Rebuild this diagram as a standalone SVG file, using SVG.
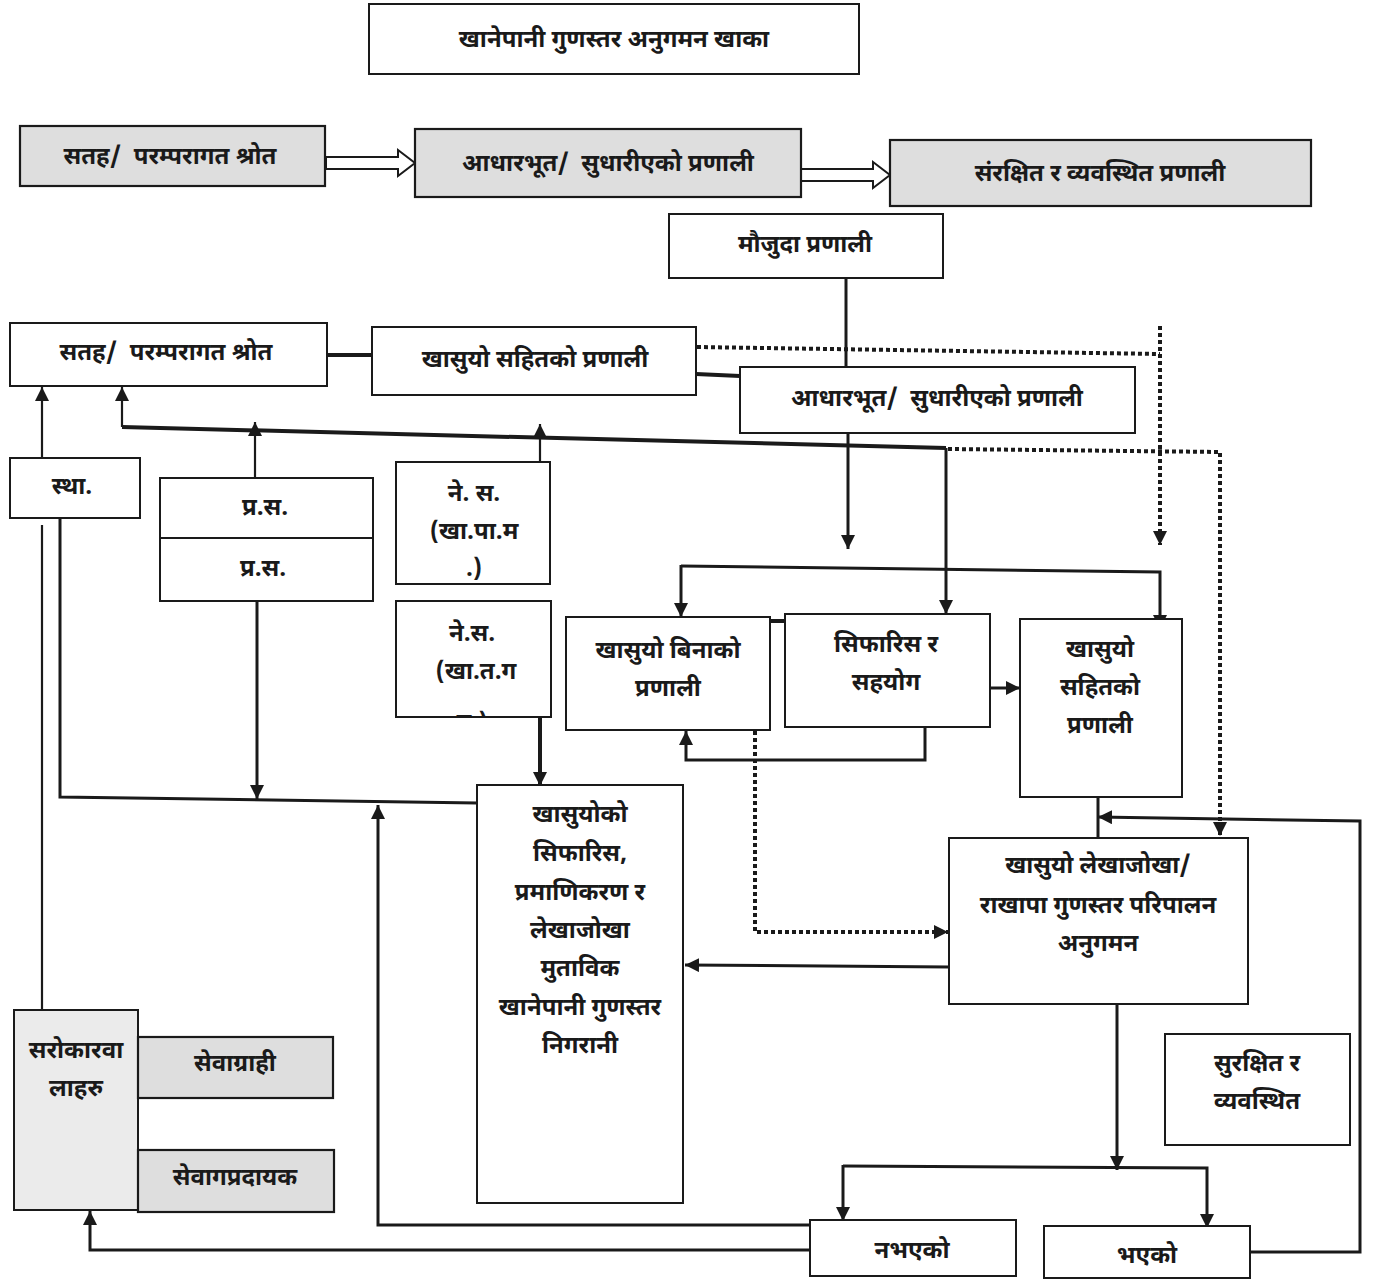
<svg xmlns="http://www.w3.org/2000/svg" width="1373" height="1279" viewBox="0 0 1373 1279">
<style>
  .box { fill: #ffffff; stroke: #1a1a1a; stroke-width: 2; }
  .gray { fill: #dedede; stroke: #1a1a1a; stroke-width: 2.2; }
  .lgray { fill: #ebebeb; stroke: #1a1a1a; stroke-width: 2; }
  text { font-family: "Noto Sans Devanagari", "Lohit Devanagari", "Noto Sans", "DejaVu Sans", sans-serif; font-weight: bold; font-size: 24px; fill: #1a1a1a; text-anchor: middle; white-space: pre; }
  .ln { fill: none; stroke: #1a1a1a; stroke-width: 3; }
  .thin { fill: none; stroke: #1a1a1a; stroke-width: 2.2; }
  .thick { fill: none; stroke: #1a1a1a; stroke-width: 4; }
  .dot { fill: none; stroke: #1a1a1a; stroke-width: 4; stroke-dasharray: 4 3; }
  .hollow { fill: #ffffff; stroke: #1a1a1a; stroke-width: 2; }
</style>
<defs>
  <marker id="ah" viewBox="0 0 10 10" refX="10" refY="5" markerWidth="14" markerHeight="14" markerUnits="userSpaceOnUse" orient="auto">
    <path d="M0,0 L10,5 L0,10 Z" fill="#1a1a1a"/>
  </marker>
  <clipPath id="clipNS2"><rect x="396" y="601" width="155" height="115"/></clipPath>
</defs>
<rect width="1373" height="1279" fill="#ffffff"/>

<g id="connectors">
  <polygon class="hollow" points="326,157 398,157 398,150 415,163 398,176 398,169 326,169"/>
  <polygon class="hollow" points="801,169 873,169 873,162 890,175 873,188 873,181 801,181"/>
  <line class="ln" x1="846" y1="278" x2="846" y2="368"/>
  <line class="thick" x1="327" y1="355" x2="372" y2="355"/>
  <line class="thick" x1="696" y1="374" x2="740" y2="376"/>
  <polyline class="dot" points="697,347 1160,354"/>
  <line class="dot" x1="1160" y1="326" x2="1160" y2="545" marker-end="url(#ah)"/>
  <polyline class="thick" points="122,427 946,448"/>
  <polyline class="dot" points="948,449 1220,452 1220,836" marker-end="url(#ah)"/>
  <line class="thin" x1="122" y1="427" x2="122" y2="387" marker-end="url(#ah)"/>
  <line class="thin" x1="42" y1="458" x2="42" y2="387" marker-end="url(#ah)"/>
  <line class="thin" x1="42" y1="525" x2="42" y2="1010"/>
  <line class="thin" x1="255" y1="478" x2="255" y2="422" marker-end="url(#ah)"/>
  <line class="thin" x1="540" y1="462" x2="540" y2="424" marker-end="url(#ah)"/>
  <line class="ln" x1="848" y1="433" x2="848" y2="549" marker-end="url(#ah)"/>
  <line class="ln" x1="946" y1="448" x2="946" y2="614" marker-end="url(#ah)"/>
  <polyline class="ln" points="681,566 1160,572 1160,629" marker-end="url(#ah)"/>
  <line class="ln" x1="681" y1="565" x2="681" y2="617" marker-end="url(#ah)"/>
  <line class="ln" x1="990" y1="688" x2="1020" y2="688" marker-end="url(#ah)"/>
  <polyline class="ln" points="925,727 925,760 686,760 686,731" marker-end="url(#ah)"/>
  <line class="thick" x1="770" y1="621" x2="785" y2="621"/>
  <polyline class="dot" points="755,731 755,932 948,932" marker-end="url(#ah)"/>
  <polyline class="ln" points="60,518 60,797 477,803"/>
  <line class="ln" x1="257" y1="601" x2="257" y2="799" marker-end="url(#ah)"/>
  <line class="thick" x1="540" y1="717" x2="540" y2="786" marker-end="url(#ah)"/>
  <polyline class="ln" points="810,1225 378,1225 378,805" marker-end="url(#ah)"/>
  <polyline class="ln" points="810,1250 90,1250 90,1211" marker-end="url(#ah)"/>
  <line class="ln" x1="949" y1="967" x2="685" y2="965" marker-end="url(#ah)"/>
  <line class="ln" x1="1098" y1="797" x2="1098" y2="838"/>
  <polyline class="ln" points="1250,1252 1360,1252 1360,821 1098,817" marker-end="url(#ah)"/>
  <line class="ln" x1="1117" y1="1004" x2="1117" y2="1170" marker-end="url(#ah)"/>
  <polyline class="ln" points="843,1166 1207,1168 1207,1228" marker-end="url(#ah)"/>
  <line class="ln" x1="843" y1="1165" x2="843" y2="1221" marker-end="url(#ah)"/>
</g>

<g id="n-title">
  <rect class="box" x="369" y="4" width="490" height="70"/>
  <text x="614" y="47">खानेपानी गुणस्तर अनुगमन खाका</text>
</g>
<g id="n-row2-a">
  <rect class="gray" x="20" y="126" width="305" height="60"/>
  <text x="170" y="164">सतह/  परम्परागत श्रोत</text>
</g>
<g id="n-row2-b">
  <rect class="gray" x="415" y="129" width="386" height="68"/>
  <text x="608" y="171">आधारभूत/  सुधारीएको प्रणाली</text>
</g>
<g id="n-row2-c">
  <rect class="gray" x="890" y="140" width="421" height="66"/>
  <text x="1100" y="181">संरक्षित र व्यवस्थित प्रणाली</text>
</g>
<g id="n-maujuda">
  <rect class="box" x="669" y="214" width="274" height="64"/>
  <text x="805" y="252">मौजुदा प्रणाली</text>
</g>
<g id="n-satah">
  <rect class="box" x="10" y="323" width="317" height="63"/>
  <text x="166" y="360">सतह/  परम्परागत श्रोत</text>
</g>
<g id="n-khasuyo-sahit-1">
  <rect class="box" x="372" y="327" width="324" height="68"/>
  <text x="535" y="367">खासुयो सहितको प्रणाली</text>
</g>
<g id="n-adharbhut">
  <rect class="box" x="740" y="367" width="395" height="66"/>
  <text x="937" y="406">आधारभूत/  सुधारीएको प्रणाली</text>
</g>
<g id="n-stha">
  <rect class="box" x="10" y="458" width="130" height="60"/>
  <text x="72" y="494">स्था.</text>
</g>
<g id="n-pras-1">
  <rect class="box" x="160" y="478" width="213" height="61"/>
  <text x="265" y="515">प्र.स.</text>
</g>
<g id="n-pras-2">
  <rect class="box" x="160" y="538" width="213" height="63"/>
  <text x="263" y="576">प्र.स.</text>
</g>
<g id="n-nesa-1">
  <rect class="box" x="396" y="462" width="154" height="122"/>
  <text x="474" y="501">ने. स.</text>
  <text x="474" y="539">(खा.पा.म</text>
  <text x="474" y="576">.)</text>
</g>
<g id="n-nesa-2">
  <rect class="box" x="396" y="601" width="155" height="116"/>
  <text x="472" y="641">ने.स.</text>
  <text x="476" y="679">(खा.त.ग</text>
  <text x="472" y="730" clip-path="url(#clipNS2)">ग.)</text>
</g>
<g id="n-khasuyo-bina">
  <rect class="box" x="566" y="617" width="204" height="113"/>
  <text x="668" y="658">खासुयो बिनाको</text>
  <text x="668" y="696">प्रणाली</text>
</g>
<g id="n-sifaris">
  <rect class="box" x="785" y="614" width="205" height="113"/>
  <text x="886" y="652">सिफारिस र</text>
  <text x="886" y="690">सहयोग</text>
</g>
<g id="n-khasuyo-sahit-2">
  <rect class="box" x="1020" y="619" width="162" height="178"/>
  <text x="1100" y="657">खासुयो</text>
  <text x="1100" y="695">सहितको</text>
  <text x="1100" y="733">प्रणाली</text>
</g>
<g id="n-khasuyoko">
  <rect class="box" x="477" y="785" width="206" height="418"/>
  <text x="580" y="822">खासुयोको</text>
  <text x="580" y="861">सिफारिस,</text>
  <text x="580" y="900">प्रमाणिकरण र</text>
  <text x="580" y="938">लेखाजोखा</text>
  <text x="580" y="976">मुताविक</text>
  <text x="580" y="1015">खानेपानी गुणस्तर</text>
  <text x="580" y="1053">निगरानी</text>
</g>
<g id="n-lekhajokha">
  <rect class="box" x="949" y="838" width="299" height="166"/>
  <text x="1098" y="873">खासुयो लेखाजोखा/</text>
  <text x="1098" y="913">राखापा गुणस्तर परिपालन</text>
  <text x="1098" y="951">अनुगमन</text>
</g>
<g id="n-surakshit">
  <rect class="box" x="1165" y="1034" width="185" height="111"/>
  <text x="1257" y="1071">सुरक्षित र</text>
  <text x="1257" y="1109">व्यवस्थित</text>
</g>
<g id="n-sarokarwala">
  <rect class="lgray" x="14" y="1010" width="124" height="200"/>
  <text x="76" y="1058">सरोकारवा</text>
  <text x="76" y="1096">लाहरु</text>
</g>
<g id="n-sewagrahi">
  <rect class="gray" x="138" y="1037" width="195" height="61"/>
  <text x="235" y="1071">सेवाग्राही</text>
</g>
<g id="n-sewapradayak">
  <rect class="gray" x="138" y="1150" width="196" height="62"/>
  <text x="235" y="1185">सेवागप्रदायक</text>
</g>
<g id="n-nabhaeko">
  <rect class="box" x="810" y="1220" width="206" height="56"/>
  <text x="912" y="1258">नभएको</text>
</g>
<g id="n-bhaeko">
  <rect class="box" x="1044" y="1226" width="206" height="52"/>
  <text x="1147" y="1263">भएको</text>
</g>
</svg>
